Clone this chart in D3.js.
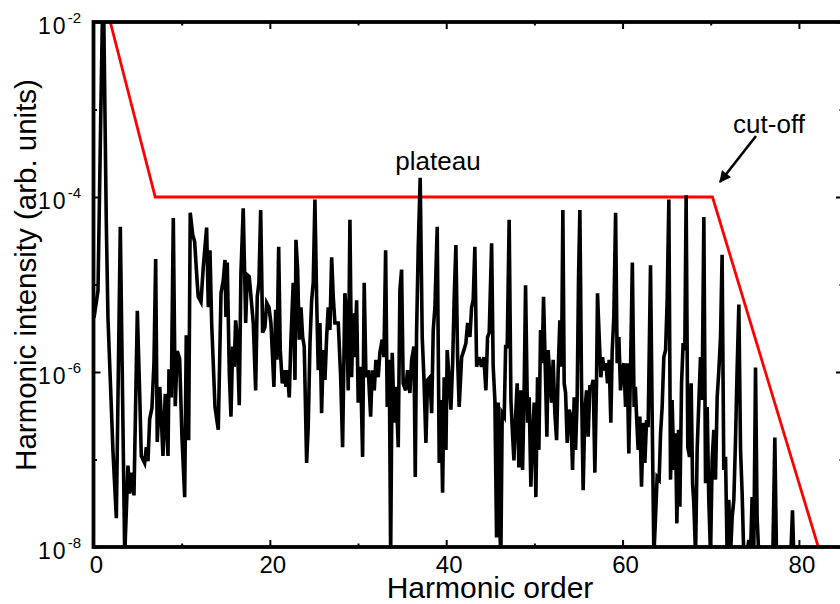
<!DOCTYPE html>
<html>
<head>
<meta charset="utf-8">
<script src="https://cdn.jsdelivr.net/npm/d3@7"></script>
<style>
  body { margin: 0; background: #fff; }
  text { font-family: "Liberation Sans", Arial, sans-serif; fill: #000; }
</style>
</head>
<body>
<svg id="chart" width="840" height="604"></svg>
<script>
// harmonic spectrum: order and log10(intensity)
var orders = [0.06,0.51,0.82,1.1,1.45,1.64,2.21,2.59,3.04,3.54,3.91,4.10,4.29,4.59,4.97,5.24,5.42,5.80,5.99,6.18,
  6.37,6.63,6.86,7.05,7.23,7.51,7.69,7.88,8.14,8.45,8.56,8.82,9.05,9.27,9.50,9.77,10.03,10.34,10.52,10.79,
  10.97,11.25,11.47,11.77,11.88,12.19,12.45,12.83,13.02,13.21,13.40,13.78,14.15,14.46,14.72,14.91,15.02,15.17,15.40,15.59,
  15.78,15.96,16.12,16.30,16.53,16.72,16.98,17.26,17.44,17.66,17.86,18.12,18.39,18.57,18.76,18.96,19.18,19.44,19.64,19.90,
  20.12,20.27,20.46,20.66,20.80,21.00,21.18,21.41,21.63,21.83,21.97,22.20,22.39,22.65,22.85,22.96,23.15,23.33,23.53,23.72,
  23.90,24.17,24.35,24.55,24.74,24.92,25.11,25.31,25.49,25.68,25.87,26.05,26.25,26.44,26.62,26.81,27.01,27.19,27.38,27.76,
  28.03,28.25,28.51,28.71,28.89,29.08,29.27,29.46,29.65,29.84,30.02,30.29,30.52,30.70,30.90,31.16,31.43,31.61,31.84,32.03,
  32.29,32.48,32.74,32.94,33.13,33.31,33.54,33.70,33.88,34.10,34.30,34.56,34.75,34.94,35.12,35.40,35.62,35.88,36.08,36.34,
  36.49,36.64,36.83,37.05,37.28,37.47,37.70,37.89,38.15,38.35,38.53,38.72,38.98,39.21,39.40,39.59,39.77,39.97,40.11,40.34,
  40.53,40.73,40.91,41.10,41.29,41.47,41.75,42.01,42.23,42.43,42.69,42.88,43.06,43.25,43.45,43.71,44.01,44.27,44.50,44.69,
  44.88,45.15,45.33,45.52,45.71,45.90,46.09,46.20,46.35,46.58,46.74,46.92,47.14,47.34,47.48,47.68,47.87,48.05,48.24,48.44,
  48.66,48.84,49.00,49.23,49.41,49.60,49.80,49.98,50.17,50.36,50.51,50.70,50.88,51.04,51.27,51.42,51.56,51.76,51.95,52.13,
  52.32,52.52,52.70,52.89,53.08,53.23,53.38,53.54,53.72,53.95,54.14,54.33,54.51,54.67,54.85,55.01,55.16,55.35,55.53,55.73,
  55.92,56.10,56.29,56.49,56.67,56.86,57.05,57.16,57.35,57.54,57.73,57.91,58.11,58.30,58.48,58.67,58.82,59.01,59.21,59.39,
  59.58,59.77,59.95,60.15,60.34,60.52,60.71,60.91,61.11,61.31,61.45,61.59,61.77,61.96,62.15,62.34,62.53,62.72,62.90,63.17,
  63.36,63.55,63.74,63.92,64.15,64.31,64.49,64.68,64.88,65.06,65.25,65.44,65.62,65.82,66.01,66.16,66.35,66.50,66.69,66.87,
  67.06,67.21,67.40,67.60,67.78,67.94,68.08,68.28,68.46,68.65,68.84,69.02,69.22,69.41,69.60,69.78,69.98,70.16,70.35,70.54,
  70.73,70.92,71.11,71.29,71.48,71.68,71.86,72.05,72.24,72.43,72.62,72.81,72.99,73.19,73.38,73.56,73.75,74.06,74.32,74.51,
  74.69,74.88,75.08,75.26,75.45,77.04,77.27,77.46,79.08,79.27,79.42,85];
var logI = [-5.38,-5.07,-3.10,-1.4,-4.28,-5.38,-6.91,-7.67,-4.34,-8.1,-7.07,-7.39,-7.15,-7.41,-5.30,-6.25,-6.96,-7.04,-6.86,-7.02,
  -6.54,-6.41,-5.89,-4.71,-6.80,-6.17,-6.53,-6.96,-6.25,-6.96,-5.97,-6.29,-4.24,-6.39,-5.76,-5.85,-6.74,-7.43,-5.58,-6.78,
  -4.18,-4.43,-4.51,-4.99,-5.14,-5.20,-4.80,-4.35,-5.26,-4.61,-5.44,-6.40,-6.66,-5.10,-4.95,-4.72,-5.37,-4.75,-6.01,-6.51,
  -5.71,-5.94,-5.41,-5.60,-6.38,-4.87,-4.13,-5.44,-4.89,-4.91,-5.14,-5.44,-6.21,-5.14,-4.98,-4.15,-5.55,-5.49,-5.21,-5.26,
  -5.44,-5.75,-6.17,-5.29,-5.86,-4.57,-5.75,-6.13,-5.98,-6.17,-5.98,-6.29,-5.63,-4.98,-6.09,-4.49,-4.83,-5.63,-5.26,-5.60,
  -5.71,-7.04,-6.63,-5.67,-5.18,-4.98,-4.03,-5.18,-5.98,-5.44,-6.47,-5.75,-6.09,-5.60,-5.26,-5.52,-4.69,-5.14,-5.44,-5.44,
  -6.06,-6.86,-5.10,-5.37,-6.21,-4.26,-6.06,-5.33,-5.83,-5.18,-6.35,-5.94,-6.97,-4.98,-6.06,-5.98,-6.51,-5.98,-6.21,-5.86,
  -6.06,-5.78,-5.63,-5.83,-4.61,-6.40,-5.86,-8.1,-5.78,-6.58,-6.17,-6.86,-5.06,-4.83,-6.13,-6.21,-5.98,-6.24,-5.86,-5.71,
  -7.20,-5.55,-4.57,-3.78,-5.60,-6.06,-6.81,-6.09,-6.06,-6.47,-5.52,-5.26,-4.34,-7.04,-6.32,-7.38,-6.06,-6.89,-5.75,-6.09,
  -6.43,-5.90,-5.14,-4.55,-5.83,-6.40,-5.83,-5.75,-5.67,-5.44,-5.60,-5.26,-5.18,-4.57,-5.94,-5.83,-5.94,-5.83,-6.21,-5.60,
  -5.55,-4.53,-5.94,-6.32,-7.89,-6.35,-7.84,-8.1,-6.47,-6.51,-5.71,-5.71,-4.26,-6.32,-6.63,-7.01,-6.51,-6.13,-7.09,-6.21,
  -7.12,-6.21,-5.01,-6.58,-6.29,-7.31,-6.70,-6.35,-7.43,-6.06,-6.89,-5.52,-5.90,-5.14,-6.09,-6.74,-5.75,-6.06,-6.35,-5.86,
  -6.47,-6.78,-5.98,-5.41,-5.94,-4.15,-6.13,-6.24,-6.81,-6.43,-6.51,-7.12,-6.29,-6.89,-6.32,-4.91,-4.15,-6.17,-7.35,-6.43,
  -6.21,-6.74,-6.17,-6.17,-6.09,-7.15,-6.09,-5.10,-5.60,-6.06,-5.83,-5.98,-5.90,-6.13,-5.86,-6.58,-5.78,-5.37,-4.18,-5.90,
  -5.60,-6.21,-5.98,-5.90,-6.40,-5.90,-6.93,-5.94,-4.75,-6.40,-6.17,-6.51,-6.89,-6.51,-7.31,-6.58,-7.04,-6.55,-6.63,-4.78,
  -6.51,-8.1,-7.66,-7.20,-7.23,-6.70,-6.40,-5.83,-5.75,-5.18,-4.03,-7.23,-6.32,-7.12,-6.70,-7.73,-6.66,-7.54,-6.13,-5.67,
  -5.75,-3.98,-6.86,-6.97,-6.13,-7.27,-7.50,-8.1,-6.89,-6.35,-5.83,-6.32,-4.23,-7.27,-6.40,-7.46,-8.1,-7.01,-6.66,-7.23,
  -6.29,-5.98,-5.60,-4.66,-7.12,-6.97,-8.1,-7.46,-8.1,-7.66,-7.46,-6.78,-5.98,-5.23,-6.89,-7.38,-8.1,-8.1,-7.92,-8.1,
  -7.43,-8.1,-5.95,-7.66,-8.1,-8.1,-6.75,-8.1,-8.1,-7.58,-8.1,-8.1];

// red guide: plateau and cut-off
var guideOrder = [1.9, 7.0, 70.2, 82.2];
var guideI = [1e-2, 1e-4, 1e-4, 1e-8];

var xMajor = [0, 20, 40, 60, 80];
var xMinor = [10, 30, 50, 70];
var yMajor = [-2, -4, -6, -8];
var yMinor = [-3, -5, -7];

var svg = d3.select("#chart");
var pLeft = 93.5, pRight = 843, pTop = 22, pBottom = 547;

var x = d3.scaleLinear().domain([0, 85]).range([pLeft, pRight]);
var y = d3.scaleLog().domain([1e-8, 1e-2]).range([pBottom, pTop]);

svg.append("clipPath").attr("id", "plot")
  .append("rect").attr("x", pLeft).attr("y", pTop).attr("width", pRight - pLeft).attr("height", pBottom - pTop);

var spectrum = orders.map(function(o, i) { return [o, Math.pow(10, logI[i])]; });
var guide = guideOrder.map(function(o, i) { return [o, guideI[i]]; });

var line = d3.line().x(function(d) { return x(d[0]); }).y(function(d) { return y(d[1]); });

var g = svg.append("g").attr("clip-path", "url(#plot)");
g.append("path").datum(guide).attr("d", line)
  .attr("fill", "none").attr("stroke", "#ff0000").attr("stroke-width", 2.8);
g.append("path").datum(spectrum).attr("d", line)
  .attr("fill", "none").attr("stroke", "#000").attr("stroke-width", 3.6).attr("stroke-linejoin", "miter");

// ticks point inwards on all four sides
function ticks(axis, pos, vals, size) {
  var a = svg.append("g").attr("transform", pos)
    .call(axis.tickValues(vals).tickSizeInner(size).tickSizeOuter(0).tickFormat(""));
  a.select(".domain").remove();
  a.selectAll(".tick line").attr("stroke", "#000").attr("stroke-width", 2);
}
var yMajorV = yMajor.map(function(e) { return Math.pow(10, e); });
var yMinorV = yMinor.map(function(e) { return Math.pow(10, e); });
ticks(d3.axisBottom(x), "translate(0," + pBottom + ")", xMajor, -7);
ticks(d3.axisBottom(x), "translate(0," + pBottom + ")", xMinor, -3.5);
ticks(d3.axisTop(x), "translate(0," + pTop + ")", xMajor, -7);
ticks(d3.axisTop(x), "translate(0," + pTop + ")", xMinor, -3.5);
ticks(d3.axisLeft(y), "translate(" + pLeft + ",0)", yMajorV, -7);
ticks(d3.axisLeft(y), "translate(" + pLeft + ",0)", yMinorV, -3.5);
ticks(d3.axisRight(y), "translate(" + pRight + ",0)", yMajorV, -7);
ticks(d3.axisRight(y), "translate(" + pRight + ",0)", yMinorV, -3.5);

svg.append("rect").attr("x", pLeft).attr("y", pTop).attr("width", pRight - pLeft).attr("height", pBottom - pTop)
  .attr("fill", "none").attr("stroke", "#000").attr("stroke-width", 3.8);

// tick labels
svg.selectAll(".xlab").data(xMajor).enter().append("text")
  .attr("x", function(d) { return x(d) + 3; }).attr("y", 573)
  .attr("text-anchor", "middle").attr("font-size", 24)
  .text(function(d) { return d; });

var yl = svg.selectAll(".ylab").data(yMajor).enter().append("text")
  .attr("x", 81).attr("y", function(d) { return y(Math.pow(10, d)) + 12; })
  .attr("text-anchor", "end").attr("font-size", 23);
yl.append("tspan").attr("letter-spacing", 2).text("10");
yl.append("tspan").attr("dy", -11).attr("font-size", 15).text(function(d) { return d; });

// axis titles
svg.append("text").attr("x", 490).attr("y", 598).attr("text-anchor", "middle")
  .attr("font-size", 30).text("Harmonic order");
svg.append("text").attr("transform", "translate(36,275) rotate(-90)").attr("text-anchor", "middle")
  .attr("font-size", 29.5).text("Harmonic intensity (arb. units)");

// annotations
svg.append("text").attr("x", 438).attr("y", 170).attr("text-anchor", "middle")
  .attr("font-size", 26).text("plateau");
svg.append("text").attr("x", 769).attr("y", 133).attr("text-anchor", "middle")
  .attr("font-size", 26).text("cut-off");

svg.append("defs").append("marker").attr("id", "head")
  .attr("viewBox", "0 0 10 10").attr("refX", 9).attr("refY", 5)
  .attr("markerWidth", 5).attr("markerHeight", 4.5).attr("orient", "auto")
  .append("path").attr("d", "M0,0L10,5L0,10z").attr("fill", "#000");
svg.append("line").attr("x1", 756).attr("y1", 136).attr("x2", 720).attr("y2", 182)
  .attr("stroke", "#000").attr("stroke-width", 2.6).attr("marker-end", "url(#head)");
</script>
</body>
</html>
